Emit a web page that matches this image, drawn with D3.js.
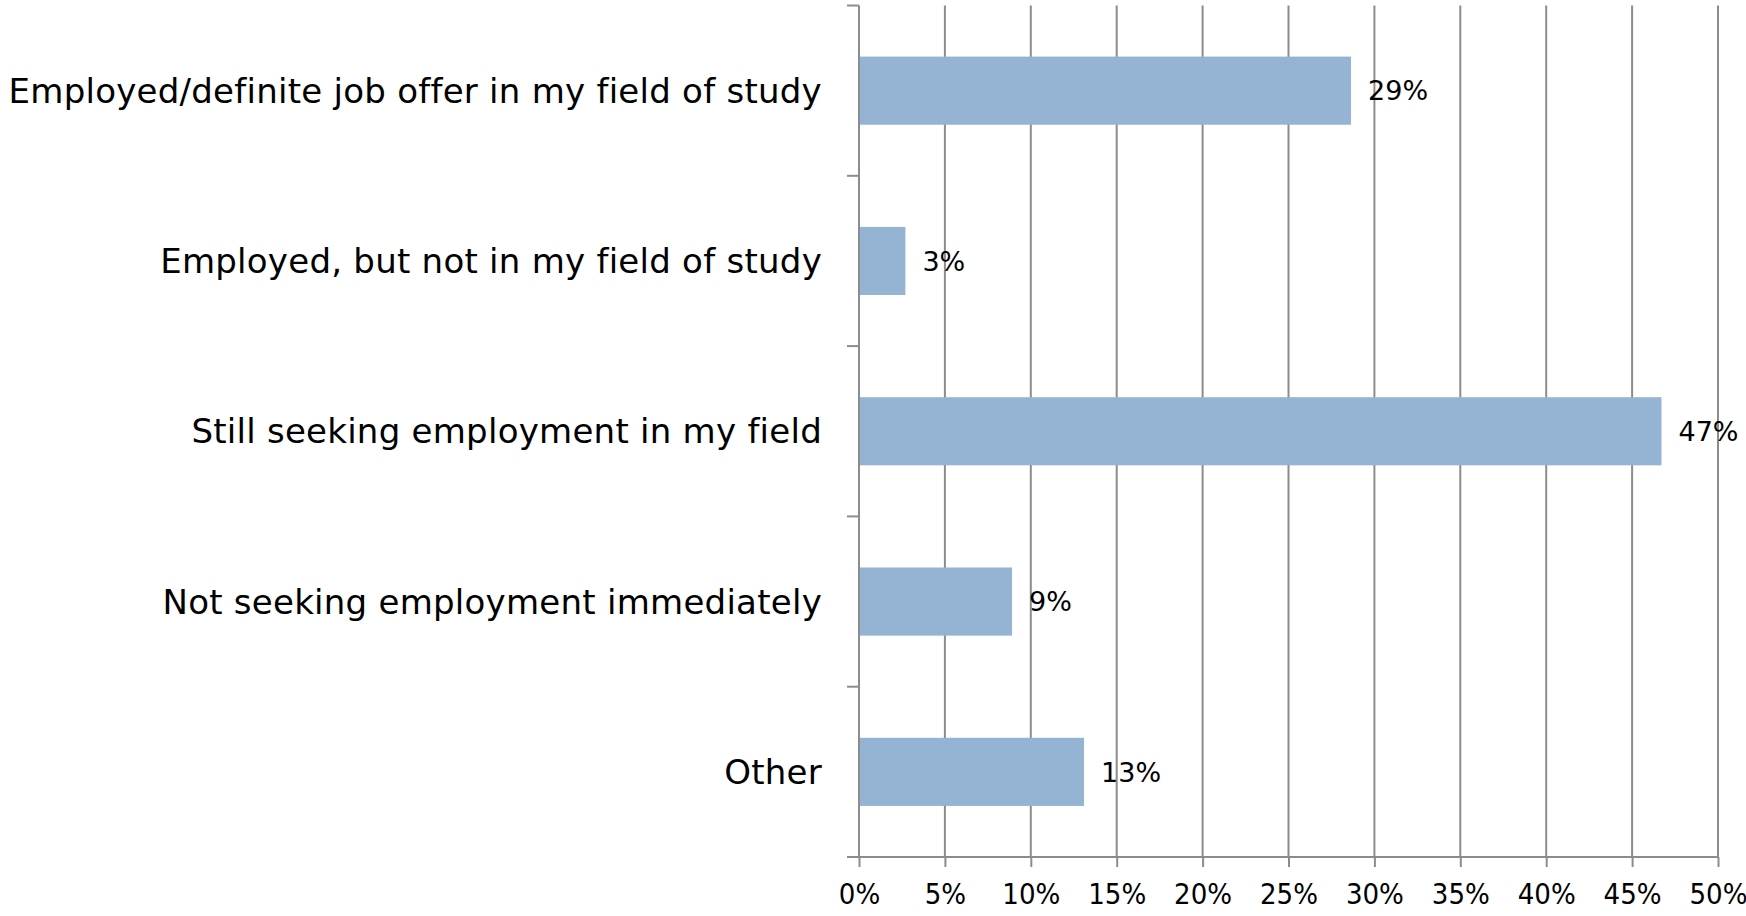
<!DOCTYPE html>
<html><head><meta charset="utf-8">
<script src="https://cdn.jsdelivr.net/npm/d3@7"></script>
<style>body{margin:0;background:#fff;}svg{display:block;}</style>
</head><body>
<svg id="chart" width="1746" height="916"></svg>
<script>
const categories = [
  "Employed/definite job offer in my field of study",
  "Employed, but not in my field of study",
  "Still seeking employment in my field",
  "Not seeking employment immediately",
  "Other"
];
const values = [28.64, 2.70, 46.71, 8.91, 13.10];
const valueLabels = ["29%", "3%", "47%", "9%", "13%"];
const xTicks = [0, 5, 10, 15, 20, 25, 30, 35, 40, 45, 50];

const svg = d3.select("#chart");
const margin = {left: 859, right: 28, top: 5.5, bottom: 59};
const W = 1746, H = 916;
const x = d3.scaleLinear().domain([0, 50]).range([margin.left, W - margin.right]);
const y = d3.scaleBand().domain(categories).range([margin.top, H - margin.bottom])
  .paddingInner(0.6).paddingOuter(0.3);
const font = "'DejaVu Sans', sans-serif";
const condFont = "'DejaVu Sans Condensed', 'Liberation Sans Narrow', 'DejaVu Sans', sans-serif";
const grey = "#8c8c8c";

// gridlines
svg.append("g").selectAll("line").data(xTicks.slice(1)).join("line")
  .attr("x1", d => x(d)).attr("x2", d => x(d))
  .attr("y1", margin.top).attr("y2", H - margin.bottom)
  .attr("stroke", grey).attr("stroke-width", 2);

// bars
svg.append("g").selectAll("rect").data(categories).join("rect")
  .attr("x", x(0)).attr("y", d => y(d))
  .attr("width", (d, i) => x(values[i]) - x(0))
  .attr("height", y.bandwidth())
  .attr("fill", "#95b3d3");

// x axis
const xAxis = svg.append("g").attr("transform", `translate(0,${H - margin.bottom})`)
  .call(d3.axisBottom(x).tickValues(xTicks).tickFormat(d => d + "%").tickSize(10).tickPadding(15).tickSizeOuter(0));
xAxis.select(".domain").attr("stroke", grey).attr("stroke-width", 2)
  .attr("d", `M${x(0) - 12},0H${x(50)}`);
xAxis.selectAll(".tick line").attr("stroke", grey).attr("stroke-width", 2);
xAxis.selectAll(".tick text").attr("font-family", condFont).attr("font-stretch", "condensed")
  .attr("font-size", 29).attr("fill", "#000")
  .attr("dy", "0.75em");

// y axis: category boundaries ticks
const yAxisG = svg.append("g");
yAxisG.append("line").attr("x1", x(0)).attr("x2", x(0))
  .attr("y1", margin.top).attr("y2", H - margin.bottom)
  .attr("stroke", grey).attr("stroke-width", 2);
const step = y.step();
const bounds = d3.range(categories.length).map(i => y(categories[i]) - y.paddingOuter() * step);
yAxisG.selectAll("line.t").data(bounds).join("line").attr("class", "t")
  .attr("x1", x(0) - 12).attr("x2", x(0))
  .attr("y1", d => d).attr("y2", d => d)
  .attr("stroke", grey).attr("stroke-width", 2);

// category labels
svg.append("g").selectAll("text").data(categories).join("text")
  .attr("x", x(0) - 37).attr("y", d => y(d) + y.bandwidth() / 2)
  .attr("dy", "0.36em").attr("text-anchor", "end")
  .attr("font-family", font).attr("font-size", 34).attr("letter-spacing", 0.25).attr("fill", "#000")
  .text(d => d);

// value labels
svg.append("g").selectAll("text").data(categories).join("text")
  .attr("x", (d, i) => x(values[i]) + 17).attr("y", d => y(d) + y.bandwidth() / 2)
  .attr("dy", "0.36em")
  .attr("font-family", font).attr("font-size", 27).attr("fill", "#000")
  .text((d, i) => valueLabels[i]);
</script>
</body></html>
